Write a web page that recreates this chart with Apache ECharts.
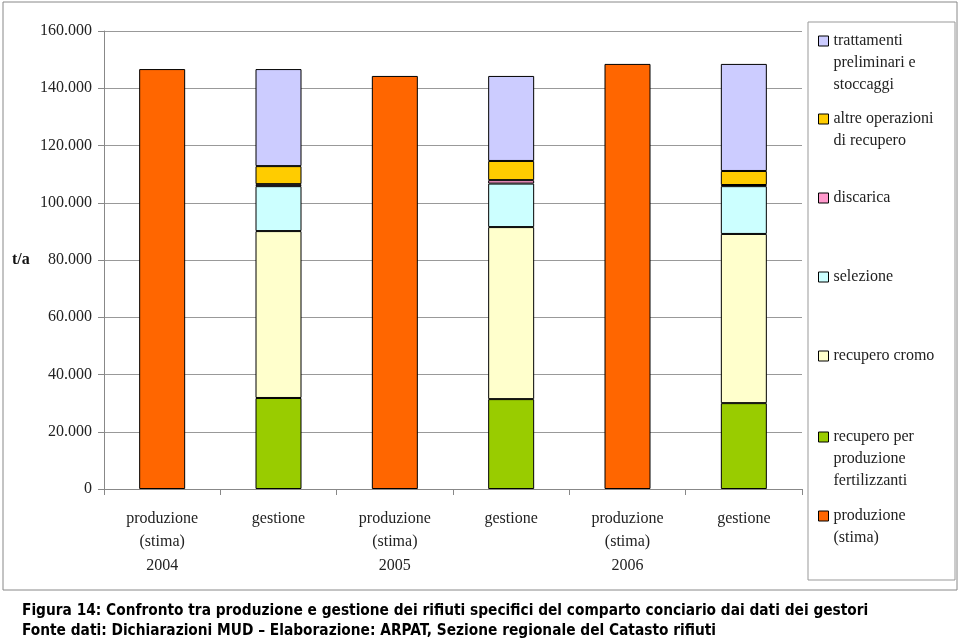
<!DOCTYPE html>
<html>
<head>
<meta charset="utf-8">
<script src="https://cdn.jsdelivr.net/npm/echarts@6/dist/echarts.min.js"></script>
<style>html,body{margin:0;padding:0;background:#fff;}#c{width:960px;height:640px;}</style>
</head>
<body>
<div id="c"></div>
<script>
const categories = ['produzione\n(stima)\n2004', 'gestione', 'produzione\n(stima)\n2005', 'gestione', 'produzione\n(stima)\n2006', 'gestione'];
const yTicks = [0, 20000, 40000, 60000, 80000, 100000, 120000, 140000, 160000];
const produzione = [146700, '-', 144300, '-', 148500, '-'];
const fertilizzanti = ['-', 31800, '-', 31400, '-', 30000];
const cromo = ['-', 58300, '-', 60100, '-', 59100];
const selezione = ['-', 15700, '-', 15200, '-', 16700];
const discarica = ['-', 700, '-', 1200, '-', 400];
const altre = ['-', 6300, '-', 6700, '-', 4900];
const trattamenti = ['-', 33900, '-', 29700, '-', 37400];

const seriesDefs = [
  {name: 'produzione (stima)', data: produzione, color: '#FF6600', label: ['produzione', '(stima)'], cy: 516},
  {name: 'recupero per produzione fertilizzanti', data: fertilizzanti, color: '#99CC00', label: ['recupero per', 'produzione', 'fertilizzanti'], cy: 437},
  {name: 'recupero cromo', data: cromo, color: '#FFFFCC', label: ['recupero cromo'], cy: 356},
  {name: 'selezione', data: selezione, color: '#CCFFFF', label: ['selezione'], cy: 277},
  {name: 'discarica', data: discarica, color: '#FF99CC', label: ['discarica'], cy: 198},
  {name: 'altre operazioni di recupero', data: altre, color: '#FFCC00', label: ['altre operazioni', 'di recupero'], cy: 119},
  {name: 'trattamenti preliminari e stoccaggi', data: trattamenti, color: '#CCCCFF', label: ['trattamenti', 'preliminari e', 'stoccaggi'], cy: 41}
];

const LH = 22;
const serif = 'Liberation Serif';

const legends = seriesDefs.map(s => {
  const n = s.label.length;
  const txt = new Array(n - 1).fill(' ').concat(s.label).join('\n');
  return {
    data: [s.name],
    left: 818,
    top: s.cy - (2 * n - 1) * LH / 2,
    padding: 0,
    orient: 'vertical',
    icon: 'rect',
    itemWidth: 10,
    itemHeight: 10,
    selectedMode: false,
    itemStyle: {borderColor: '#000', borderWidth: 1},
    formatter: () => txt,
    textStyle: {fontFamily: serif, fontSize: 16, color: '#222', lineHeight: LH}
  };
});

const chart = echarts.init(document.getElementById('c'), null, {renderer: 'canvas'});
chart.setOption({
  animation: false,
  backgroundColor: '#fff',
  grid: {left: 104, right: 158, top: 31, bottom: 151, containLabel: false},
  legend: legends,
  xAxis: {
    type: 'category',
    data: categories,
    axisLine: {lineStyle: {color: '#888', width: 1}},
    axisTick: {show: true, length: 6, lineStyle: {color: '#888'}, alignWithLabel: false},
    axisLabel: {fontFamily: serif, fontSize: 16, color: '#222', lineHeight: 23.5, margin: 18, interval: 0, verticalAlign: 'top'}
  },
  yAxis: {
    type: 'value',
    min: 0, max: 160000, interval: 20000,
    axisLine: {show: true, lineStyle: {color: '#888'}},
    axisTick: {show: true, length: 6, lineStyle: {color: '#888'}},
    splitLine: {show: true, lineStyle: {color: '#999', width: 1}},
    axisLabel: {
      fontFamily: serif, fontSize: 16, color: '#222', margin: 12,
      formatter: v => yTicks.includes(v) ? (v === 0 ? '0' : (v / 1000) + '.000') : ''
    }
  },
  series: seriesDefs.map(s => ({
    name: s.name,
    type: 'bar',
    stack: 'tot',
    barWidth: 46,
    data: s.data,
    itemStyle: {color: s.color, borderColor: '#000', borderWidth: 1},
    emphasis: {disabled: true}
  })),
  graphic: [
    {type: 'rect', shape: {x: 3, y: 2, width: 954, height: 588}, style: {fill: 'none', stroke: '#888', lineWidth: 1}, z: -1},
    {type: 'rect', shape: {x: 808, y: 22, width: 147, height: 558}, style: {fill: 'none', stroke: '#999', lineWidth: 1}},
    {type: 'text', left: 12, top: 252, style: {text: 't/a', font: 'bold 16px "Liberation Serif"', fill: '#111'}},
    {type: 'text', left: 22, top: 604, style: {text: 'Figura 14: Confronto tra produzione e gestione dei rifiuti specifici del comparto conciario dai dati dei gestori', font: 'bold 15.3px "DejaVu Sans Condensed"', fill: '#000'}},
    {type: 'text', left: 22, top: 624, style: {text: 'Fonte dati: Dichiarazioni MUD \u2013 Elaborazione: ARPAT, Sezione regionale del Catasto rifiuti', font: 'bold 15.3px "DejaVu Sans Condensed"', fill: '#000'}}
  ]
});
</script>
</body>
</html>
